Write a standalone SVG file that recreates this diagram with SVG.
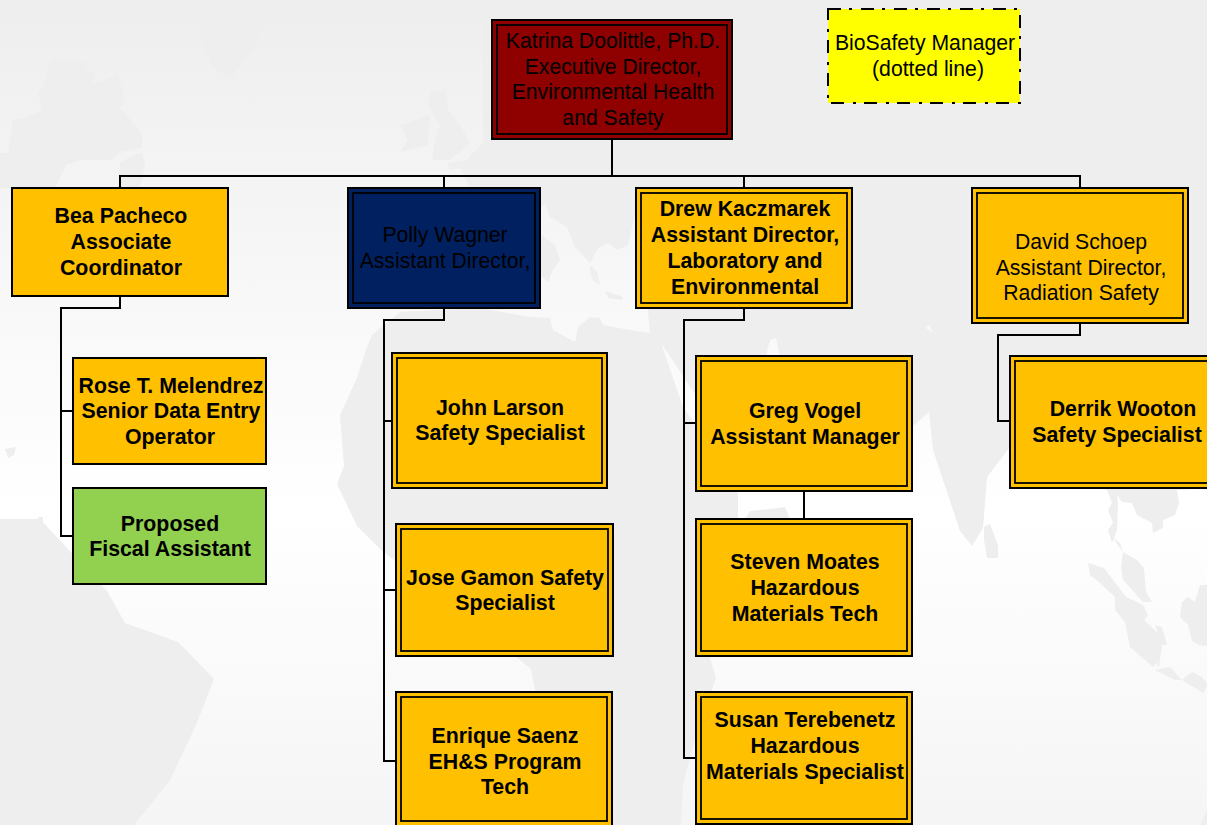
<svg xmlns="http://www.w3.org/2000/svg" width="1207" height="825" viewBox="0 0 1207 825">
<defs>
<linearGradient id="bg" gradientUnits="userSpaceOnUse" x1="0" y1="0" x2="0" y2="825">
<stop offset="0" stop-color="#eeeeee"/><stop offset="0.62" stop-color="#ffffff"/><stop offset="1" stop-color="#f5f5f5"/>
</linearGradient>
</defs>
<style>
.o{stroke:#000;stroke-width:2}
.i{fill:none;stroke:#000;stroke-width:1.8}
.org{fill:#ffc000}
text{font-family:"Liberation Sans",Arial,sans-serif;font-size:21.2px;text-anchor:middle;fill:#000}
.b{font-weight:bold;font-size:21.33px}
.c{fill:none;stroke:#000;stroke-width:2}
.land{fill:#eeeeee}
.sea{fill:url(#bg)}
</style>
<rect width="1207" height="825" class="sea"/>
<g id="background">
<path class="land" d="M483 142L467 160 447 163 450 170 460 168 470 188 540 208 545 203 550 217 567 227 575 247 590 263 598 248 608 243 617 250 628 245 635 215 640 220 650 333 630 330 603 325 600 318 590 317 578 327 575 342 553 330 550 318 530 317 480 308 400 312 372 335 366 350 357 378 340 415 344 466 337 484 357 526 380 549 531 669 560 825 681 825 683 785 697 732 716 678 710 658 738 519 738 491 800 470 912 427 929 412 933 450 941 474 960 531 972 546 983 528 987 477 1010 447 1107 490 1112 503 1108 510 1113 523 1108 530 1112 543 1117 530 1118 503 1117 495 1122 502 1132 503 1137 515 1152 523 1153 533 1163 528 1163 520 1175 515 1179 503 1177 490 1207 488 1207 0 483 0Z"/>
<path class="sea" d="M661 343L695 394 695 424 683 407ZM766 356L770 340 776 338 780 356ZM929 325L933 333 926 328Z"/>
<path class="land" d="M590 265L597 272 600 285 593 280 590 272ZM605 291L623 297 622 300 608 298ZM540 235L555 245 560 260 553 270 548 282 540 275Z"/>
<path class="land" d="M745 519L750 511 770 509 785 507 790 519Z"/>
<path class="land" d="M984 527L990 524 998 545 998 558 987 558 984 540Z"/>
<path class="land" d="M1112 537L1120 543 1123 552 1137 560 1144 568 1146 592 1152 602 1143 602 1123 580 1121 567 1123 552Z"/>
<path class="land" d="M1088 563L1104 568 1126 597 1143 605 1148 615 1144 620 1158 633 1155 625 1162 627 1167 645 1162 645 1159 667 1156 663 1153 667 1130 647 1125 622 1115 610 1115 597 1100 583 1090 575Z"/>
<path class="land" d="M1155 670L1170 667 1182 680 1192 672 1202 677 1207 683 1207 687 1203 693 1182 680 1175 680Z"/>
<path class="land" d="M1200 585L1207 585 1207 646 1199 645 1192 641 1188 625 1180 617 1182 602 1188 597 1195 602Z"/>
<path class="land" d="M1207 810L1200 825 1207 825Z"/>
<path class="land" d="M0 519L40 519 107 591 125 623 178 642 214 679 196 725 170 780 134 825 0 825Z"/>
<path class="land" d="M5 449L16 447 14 455 8 458ZM38 517L43 517 43 523 39 523Z"/>
<path class="land" d="M50 58L85 62 88 70 95 72 92 85 118 75 125 100 120 108 135 125 142 135 142 148 120 152 112 160 80 160 66 165 55 188 0 188 0 153 8 153 13 120 25 118 42 110 38 92 42 90Z"/>
<path class="land" d="M120 162L142 152 145 165 140 188 118 188Z"/>
<path class="land" d="M200 27L260 27 253 50 230 78 213 67 203 43Z"/>
<path class="land" d="M400 125L430 115 428 145 400 152 408 140ZM430 92L445 90 448 110 460 125 470 143 450 160 432 160 435 140 440 125 428 105Z"/>
</g>
<g id="connectors">
<path class="c" d="M612 140V176M120 188V176H1080V188M444 176V188M744 176V188"/>
<path class="c" d="M120 296V308H61V536H73M61 411H73"/>
<path class="c" d="M444 308V320H384V761H396M384 421H392M384 590H396"/>
<path class="c" d="M744 308V320H684V758H696M684 423H696M804 491V519"/>
<path class="c" d="M1080 323V335H998V421H1010"/>
</g>
<g id="n-katrina"><rect class="o" x="492" y="20" width="240" height="119" fill="#8f0000"/><rect class="i" x="497" y="25" width="230" height="109"/><text x="613" y="48">Katrina Doolittle, Ph.D.</text><text x="613" y="74">Executive Director,</text><text x="613" y="99">Environmental Health</text><text x="613" y="125">and Safety</text></g>
<g id="n-biosafety"><rect x="828" y="9" width="192" height="94" fill="#ffff00" stroke="#000" stroke-width="2" stroke-dasharray="13 8 3 9"/><text x="925" y="50">BioSafety Manager</text><text x="928" y="76">(dotted line)</text></g>
<g id="n-bea"><rect class="o org" x="12" y="188" width="216" height="108"/><text class="b" x="121" y="223">Bea Pacheco</text><text class="b" x="121" y="249">Associate</text><text class="b" x="121" y="275">Coordinator</text></g>
<g id="n-polly"><rect class="o" x="348" y="188" width="192" height="120" fill="#002060"/><rect class="i" x="353" y="193" width="182" height="110"/><text x="445" y="242">Polly Wagner</text><text x="445" y="268">Assistant Director,</text></g>
<g id="n-drew"><rect class="o org" x="636" y="188" width="216" height="120"/><rect class="i" x="641" y="193" width="206" height="110"/><text class="b" x="745" y="216">Drew Kaczmarek</text><text class="b" x="745" y="242">Assistant Director,</text><text class="b" x="745" y="268">Laboratory and</text><text class="b" x="745" y="294">Environmental</text></g>
<g id="n-david"><rect class="o org" x="972" y="188" width="216" height="135"/><rect class="i" x="977" y="193" width="206" height="125"/><text x="1081" y="249">David Schoep</text><text x="1081" y="275">Assistant Director,</text><text x="1081" y="300">Radiation Safety</text></g>
<g id="n-rose"><rect class="o org" x="73" y="358" width="193" height="106"/><text class="b" x="171" y="393">Rose T. Melendrez</text><text class="b" x="171" y="418">Senior Data Entry</text><text class="b" x="170" y="444">Operator</text></g>
<g id="n-proposed"><rect class="o" x="73" y="488" width="193" height="96" fill="#92d050"/><text class="b" x="170" y="531">Proposed</text><text class="b" x="170" y="556">Fiscal Assistant</text></g>
<g id="n-john"><rect class="o org" x="392" y="353" width="215" height="135"/><rect class="i" x="397" y="358" width="205" height="125"/><text class="b" x="500" y="415">John Larson</text><text class="b" x="500" y="440">Safety Specialist</text></g>
<g id="n-jose"><rect class="o org" x="396" y="524" width="217" height="132"/><rect class="i" x="401" y="529" width="207" height="122"/><text class="b" x="505" y="585">Jose Gamon Safety</text><text class="b" x="505" y="610">Specialist</text></g>
<g id="n-enrique"><rect class="o org" x="396" y="692" width="216" height="134"/><rect class="i" x="401" y="697" width="206" height="124"/><text class="b" x="505" y="743">Enrique Saenz</text><text class="b" x="505" y="769">EH&amp;S Program</text><text class="b" x="505" y="794">Tech</text></g>
<g id="n-greg"><rect class="o org" x="696" y="356" width="216" height="135"/><rect class="i" x="701" y="361" width="206" height="125"/><text class="b" x="805" y="418">Greg Vogel</text><text class="b" x="805" y="444">Assistant Manager</text></g>
<g id="n-steven"><rect class="o org" x="696" y="519" width="216" height="137"/><rect class="i" x="701" y="524" width="206" height="127"/><text class="b" x="805" y="569">Steven Moates</text><text class="b" x="805" y="595">Hazardous</text><text class="b" x="805" y="621">Materials Tech</text></g>
<g id="n-susan"><rect class="o org" x="696" y="692" width="216" height="132"/><rect class="i" x="701" y="697" width="206" height="122"/><text class="b" x="805" y="727">Susan Terebenetz</text><text class="b" x="805" y="753">Hazardous</text><text class="b" x="805" y="779">Materials Specialist</text></g>
<g id="n-derrik"><rect class="o org" x="1010" y="356" width="215" height="132"/><rect class="i" x="1015" y="361" width="205" height="122"/><text class="b" x="1123" y="416">Derrik Wooton</text><text class="b" x="1117" y="442">Safety Specialist</text></g>
</svg>
